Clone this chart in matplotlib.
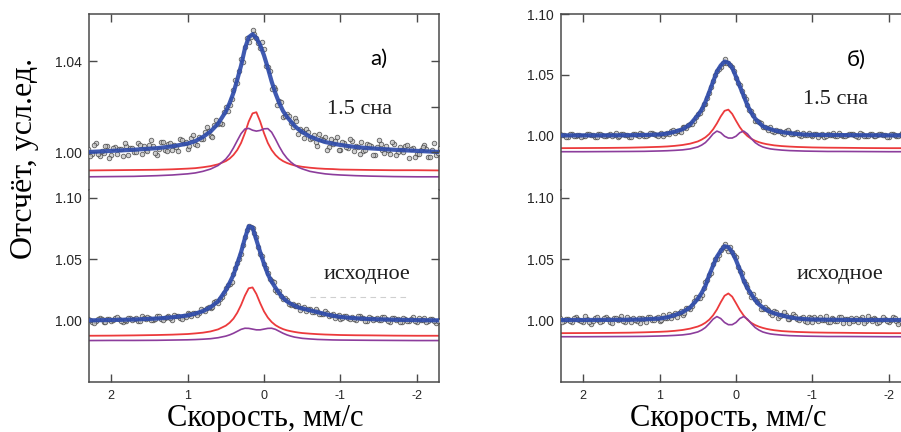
import matplotlib
matplotlib.use("Agg")
import matplotlib.pyplot as plt

# velocity channels of the measured spectra, mm/s (two interleaved halves)
vel_even = [-2.30, -2.25, -2.20, -2.15, -2.10, -2.05, -2.00, -1.95, -1.90, -1.85,
            -1.80, -1.75, -1.70, -1.65, -1.60, -1.55, -1.50, -1.45, -1.40, -1.35,
            -1.30, -1.25, -1.20, -1.15, -1.10, -1.05, -1.00, -0.95, -0.90, -0.85,
            -0.80, -0.75, -0.70, -0.65, -0.60, -0.55, -0.50, -0.45, -0.40, -0.35,
            -0.30, -0.25, -0.20, -0.15, -0.10, -0.05, 0.00, 0.05, 0.10, 0.15,
            0.20, 0.25, 0.30, 0.35, 0.40, 0.45, 0.50, 0.55, 0.60, 0.65,
            0.70, 0.75, 0.80, 0.85, 0.90, 0.95, 1.00, 1.05, 1.10, 1.15,
            1.20, 1.25, 1.30, 1.35, 1.40, 1.45, 1.50, 1.55, 1.60, 1.65,
            1.70, 1.75, 1.80, 1.85, 1.90, 1.95, 2.00, 2.05, 2.10, 2.15,
            2.20, 2.25, 2.30]
vel_odd = [-2.275, -2.225, -2.175, -2.125, -2.075, -2.025, -1.975, -1.925, -1.875, -1.825,
           -1.775, -1.725, -1.675, -1.625, -1.575, -1.525, -1.475, -1.425, -1.375, -1.325,
           -1.275, -1.225, -1.175, -1.125, -1.075, -1.025, -0.975, -0.925, -0.875, -0.825,
           -0.775, -0.725, -0.675, -0.625, -0.575, -0.525, -0.475, -0.425, -0.375, -0.325,
           -0.275, -0.225, -0.175, -0.125, -0.075, -0.025, 0.025, 0.075, 0.125, 0.175,
           0.225, 0.275, 0.325, 0.375, 0.425, 0.475, 0.525, 0.575, 0.625, 0.675,
           0.725, 0.775, 0.825, 0.875, 0.925, 0.975, 1.025, 1.075, 1.125, 1.175,
           1.225, 1.275, 1.325, 1.375, 1.425, 1.475, 1.525, 1.575, 1.625, 1.675,
           1.725, 1.775, 1.825, 1.875, 1.925, 1.975, 2.025, 2.075, 2.125, 2.175,
           2.225, 2.275]

# measured counts (normalised), panel a: after 1.5 dpa / initial
pts_a_top = [1.0018, 0.9989, 1.0010, 0.9979, 1.0033, 1.0009, 0.9990, 1.0017, 0.9974, 1.0028,
             1.0008, 1.0000, 1.0037, 0.9993, 1.0026, 1.0009, 1.0052, 0.9989, 1.0025, 1.0034,
             1.0006, 0.9990, 1.0028, 1.0047, 1.0019, 1.0041, 1.0010, 1.0066, 1.0034, 1.0024,
             1.0064, 1.0058, 1.0028, 1.0076, 1.0058, 1.0102, 1.0091, 1.0081, 1.0148, 1.0129,
             1.0169, 1.0156, 1.0226, 1.0276, 1.0279, 1.0375, 1.0451, 1.0458, 1.0501, 1.0535,
             1.0483, 1.0463, 1.0409, 1.0303, 1.0272, 1.0206, 1.0199, 1.0122, 1.0125, 1.0121,
             1.0072, 1.0112, 1.0059, 1.0068, 1.0035, 1.0062, 1.0013, 1.0040, 1.0058, 1.0024,
             1.0007, 1.0037, 1.0011, 1.0042, 0.9987, 1.0025, 1.0032, 1.0011, 0.9992, 1.0041,
             0.9998, 1.0017, 1.0026, 0.9982, 1.0012, 1.0020, 0.9988, 1.0028, 0.9997, 0.9982,
             1.0038, 0.9992, 1.0012]
pts_a_top_odd = [0.9997, 1.0040, 0.9976, 1.0012, 1.0021, 0.9991, 0.9976, 1.0013, 1.0030, 1.0000,
                 1.0021, 0.9989, 1.0043, 1.0009, 0.9996, 1.0034, 1.0024, 0.9989, 1.0032, 1.0007,
                 1.0044, 1.0024, 1.0003, 1.0058, 1.0022, 1.0044, 1.0009, 1.0047, 1.0057, 1.0010,
                 1.0052, 1.0078, 1.0046, 1.0063, 1.0090, 1.0060, 1.0102, 1.0137, 1.0110, 1.0157,
                 1.0159, 1.0219, 1.0208, 1.0284, 1.0355, 1.0380, 1.0483, 1.0478, 1.0521, 1.0508,
                 1.0500, 1.0394, 1.0355, 1.0316, 1.0233, 1.0179, 1.0178, 1.0127, 1.0139, 1.0068,
                 1.0093, 1.0089, 1.0059, 1.0032, 1.0075, 1.0028, 1.0044, 1.0051, 1.0004, 1.0032,
                 1.0038, 1.0005, 1.0044, 1.0012, 0.9997, 1.0052, 1.0006, 1.0026, 1.0030, 0.9999,
                 1.0018, 0.9986, 1.0038, 1.0013, 0.9992, 1.0017, 0.9972, 1.0025, 1.0003, 0.9993,
                 1.0029, 0.9983]
pts_a_bot = [1.0011, 0.9987, 1.0015, 0.9999, 1.0022, 1.0009, 0.9994, 1.0030, 1.0004, 1.0018,
             0.9993, 1.0017, 1.0022, 0.9990, 1.0015, 1.0030, 1.0005, 1.0013, 1.0026, 1.0001,
             1.0022, 1.0038, 1.0012, 1.0032, 1.0021, 1.0044, 1.0014, 1.0038, 1.0053, 1.0037,
             1.0079, 1.0059, 1.0079, 1.0071, 1.0100, 1.0079, 1.0106, 1.0128, 1.0122, 1.0128,
             1.0169, 1.0179, 1.0240, 1.0250, 1.0326, 1.0391, 1.0463, 1.0546, 1.0680, 1.0752,
             1.0775, 1.0684, 1.0543, 1.0468, 1.0384, 1.0299, 1.0266, 1.0199, 1.0147, 1.0158,
             1.0106, 1.0103, 1.0092, 1.0062, 1.0065, 1.0037, 1.0065, 1.0044, 1.0027, 1.0040,
             1.0008, 1.0041, 1.0025, 1.0016, 1.0038, 1.0006, 1.0026, 1.0013, 1.0039, 0.9996,
             1.0018, 1.0022, 1.0001, 0.9990, 1.0013, 1.0024, 1.0003, 1.0015, 0.9993, 1.0027,
             1.0004, 0.9994, 1.0018]
pts_a_bot_odd = [0.9997, 1.0004, 1.0017, 0.9991, 1.0012, 1.0026, 0.9998, 1.0016, 1.0003, 1.0023,
                 0.9991, 1.0010, 1.0021, 1.0000, 1.0036, 1.0008, 1.0021, 1.0006, 1.0029, 1.0001,
                 1.0022, 1.0039, 1.0020, 1.0014, 1.0038, 1.0025, 1.0051, 1.0021, 1.0052, 1.0064,
                 1.0058, 1.0054, 1.0096, 1.0076, 1.0096, 1.0111, 1.0089, 1.0121, 1.0142, 1.0139,
                 1.0189, 1.0202, 1.0235, 1.0319, 1.0344, 1.0431, 1.0525, 1.0602, 1.0715, 1.0763,
                 1.0741, 1.0619, 1.0503, 1.0427, 1.0321, 1.0294, 1.0227, 1.0176, 1.0165, 1.0111,
                 1.0113, 1.0085, 1.0100, 1.0048, 1.0062, 1.0060, 1.0034, 1.0019, 1.0039, 1.0047,
                 1.0024, 1.0034, 1.0010, 1.0042, 1.0017, 1.0007, 1.0030, 1.0021, 0.9996, 1.0023,
                 1.0005, 1.0027, 1.0012, 0.9997, 1.0031, 1.0005, 1.0017, 0.9991, 1.0014, 1.0018,
                 0.9985, 1.0008]

# panel b
pts_b_top = [0.9995, 1.0023, 1.0001, 1.0011, 0.9998, 1.0015, 0.9992, 1.0008, 1.0019, 1.0004,
             0.9996, 1.0013, 1.0000, 1.0018, 0.9990, 1.0012, 1.0016, 1.0005, 0.9996, 1.0023,
             1.0002, 1.0012, 1.0018, 0.9994, 1.0010, 1.0016, 1.0000, 1.0023, 1.0008, 1.0003,
             1.0035, 1.0014, 1.0029, 1.0037, 1.0026, 1.0043, 1.0034, 1.0072, 1.0068, 1.0072,
             1.0116, 1.0125, 1.0201, 1.0250, 1.0325, 1.0421, 1.0476, 1.0567, 1.0598, 1.0630,
             1.0564, 1.0532, 1.0454, 1.0353, 1.0264, 1.0218, 1.0182, 1.0126, 1.0101, 1.0062,
             1.0072, 1.0042, 1.0026, 1.0037, 1.0025, 1.0002, 1.0020, 1.0005, 1.0023, 1.0011,
             0.9998, 1.0026, 1.0004, 1.0014, 0.9993, 1.0012, 1.0016, 0.9989, 1.0007, 1.0019,
             0.9999, 1.0004, 1.0014, 0.9993, 1.0009, 1.0020, 0.9997, 1.0011, 1.0000, 1.0016,
             0.9990, 1.0005, 1.0013]
pts_b_top_odd = [1.0003, 0.9994, 1.0021, 0.9999, 1.0009, 1.0015, 0.9991, 1.0007, 1.0013, 0.9997,
                 1.0019, 1.0003, 0.9996, 1.0025, 1.0002, 1.0013, 1.0017, 1.0001, 1.0011, 0.9996,
                 1.0024, 1.0010, 1.0000, 1.0014, 0.9991, 1.0020, 1.0010, 1.0006, 1.0026, 1.0005,
                 1.0025, 1.0019, 1.0045, 1.0016, 1.0041, 1.0052, 1.0044, 1.0045, 1.0076, 1.0107,
                 1.0123, 1.0173, 1.0209, 1.0307, 1.0367, 1.0438, 1.0533, 1.0585, 1.0598, 1.0602,
                 1.0547, 1.0499, 1.0405, 1.0310, 1.0266, 1.0190, 1.0157, 1.0100, 1.0090, 1.0074,
                 1.0033, 1.0042, 1.0045, 1.0018, 1.0017, 1.0023, 1.0000, 1.0015, 1.0025, 1.0001,
                 1.0014, 1.0003, 1.0018, 0.9992, 1.0006, 1.0014, 0.9996, 1.0024, 1.0001, 1.0011,
                 0.9998, 1.0015, 0.9992, 1.0008, 1.0019, 1.0003, 0.9995, 1.0012, 0.9999, 1.0017,
                 0.9989, 1.0010]
pts_b_bot = [1.0018, 1.0000, 1.0039, 0.9991, 1.0003, 1.0029, 0.9994, 1.0020, 1.0012, 0.9986,
             1.0024, 1.0015, 0.9998, 1.0034, 0.9990, 1.0006, 1.0023, 1.0017, 0.9983, 1.0029,
             1.0001, 1.0022, 0.9994, 1.0007, 1.0034, 1.0017, 0.9991, 1.0030, 1.0003, 1.0026,
             1.0013, 1.0055, 1.0014, 1.0050, 1.0045, 1.0028, 1.0080, 1.0066, 1.0099, 1.0097,
             1.0160, 1.0177, 1.0198, 1.0280, 1.0329, 1.0407, 1.0517, 1.0564, 1.0573, 1.0624,
             1.0579, 1.0501, 1.0462, 1.0370, 1.0314, 1.0211, 1.0183, 1.0164, 1.0101, 1.0103,
             1.0049, 1.0067, 1.0065, 1.0024, 1.0027, 1.0052, 1.0002, 1.0028, 1.0009, 1.0035,
             1.0018, 0.9986, 1.0000, 1.0025, 1.0018, 0.9988, 1.0043, 1.0005, 1.0021, 0.9993,
             1.0032, 1.0001, 1.0009, 1.0026, 0.9979, 1.0017, 0.9995, 1.0012, 1.0034, 0.9988,
             1.0015, 0.9998, 1.0024]
pts_b_bot_odd = [1.0012, 0.9995, 1.0017, 0.9979, 1.0026, 1.0008, 1.0000, 1.0031, 0.9992, 1.0020,
                 1.0004, 1.0041, 0.9986, 1.0016, 1.0023, 0.9997, 0.9983, 1.0014, 1.0029, 1.0003,
                 1.0020, 0.9992, 1.0038, 1.0008, 0.9998, 1.0029, 1.0021, 0.9991, 1.0029, 1.0010,
                 1.0044, 1.0031, 1.0017, 1.0070, 1.0044, 1.0070, 1.0047, 1.0091, 1.0116, 1.0096,
                 1.0157, 1.0216, 1.0232, 1.0297, 1.0388, 1.0436, 1.0535, 1.0605, 1.0597, 1.0599,
                 1.0538, 1.0504, 1.0388, 1.0330, 1.0270, 1.0188, 1.0192, 1.0120, 1.0109, 1.0069,
                 1.0083, 1.0033, 1.0048, 1.0057, 1.0024, 1.0007, 1.0031, 1.0008, 1.0036, 0.9988,
                 1.0021, 1.0026, 1.0009, 0.9993, 1.0036, 1.0000, 1.0017, 1.0025, 0.9987, 1.0013,
                 1.0021, 0.9995, 1.0030, 1.0003, 0.9991, 1.0039, 1.0000, 1.0018, 1.0024, 0.9998,
                 1.0015, 0.9988]

# fitted curves: total (blue) and two components (red singlet, purple doublet)
vel_fit = [-2.3, -2.0, -1.7, -1.4, -1.2, -1.0, -0.9, -0.8, -0.7, -0.6,
           -0.5, -0.45, -0.4, -0.35, -0.3, -0.25, -0.2, -0.15, -0.1, -0.05,
           0.0, 0.05, 0.1, 0.15, 0.2, 0.25, 0.3, 0.35, 0.4, 0.45,
           0.5, 0.6, 0.7, 0.8, 0.9, 1.0, 1.2, 1.4, 1.7, 2.0, 2.3]

fit_a_top = [1.0000, 1.0005, 1.0010, 1.0016, 1.0022, 1.0031, 1.0037, 1.0044, 1.0055, 1.0068,
             1.0088, 1.0100, 1.0115, 1.0135, 1.0155, 1.0180, 1.0215, 1.0258, 1.0310, 1.0370,
             1.0425, 1.0470, 1.0502, 1.0518, 1.0505, 1.0455, 1.0380, 1.0318, 1.0260, 1.0215,
             1.0178, 1.0125, 1.0090, 1.0066, 1.0048, 1.0037, 1.0025, 1.0017, 1.0010, 1.0005, 1.0000]
red_a_top = [0.9919, 0.9920, 0.9920, 0.9921, 0.9922, 0.9923, 0.9925, 0.9926, 0.9928, 0.9931,
             0.9935, 0.9938, 0.9941, 0.9946, 0.9952, 0.9960, 0.9971, 0.9987, 1.0009, 1.0040,
             1.0083, 1.0134, 1.0175, 1.0170, 1.0134, 1.0083, 1.0040, 1.0009, 0.9987, 0.9971,
             0.9960, 0.9946, 0.9938, 0.9933, 0.9929, 0.9927, 0.9924, 0.9922, 0.9921, 0.9920, 0.9919]
pur_a_top = [0.9891, 0.9891, 0.9892, 0.9894, 0.9896, 0.9899, 0.9901, 0.9904, 0.9909, 0.9915,
             0.9926, 0.9933, 0.9943, 0.9956, 0.9973, 0.9995, 1.0024, 1.0057, 1.0087, 1.0103,
             1.0102, 1.0095, 1.0092, 1.0096, 1.0104, 1.0101, 1.0081, 1.0050, 1.0018, 0.9990,
             0.9969, 0.9941, 0.9925, 0.9915, 0.9908, 0.9904, 0.9899, 0.9896, 0.9893, 0.9892, 0.9891]

fit_a_bot = [1.0005, 1.0007, 1.0010, 1.0015, 1.0022, 1.0033, 1.0043, 1.0056, 1.0072, 1.0087,
             1.0102, 1.0110, 1.0125, 1.0140, 1.0160, 1.0186, 1.0225, 1.0270, 1.0320, 1.0380,
             1.0465, 1.0560, 1.0660, 1.0760, 1.0770, 1.0672, 1.0560, 1.0465, 1.0375, 1.0310,
             1.0250, 1.0160, 1.0112, 1.0080, 1.0060, 1.0045, 1.0030, 1.0020, 1.0012, 1.0008, 1.0005]
red_a_bot = [0.9880, 0.9880, 0.9881, 0.9883, 0.9884, 0.9886, 0.9888, 0.9890, 0.9893, 0.9897,
             0.9902, 0.9906, 0.9911, 0.9917, 0.9924, 0.9934, 0.9948, 0.9966, 0.9992, 1.0028,
             1.0078, 1.0145, 1.0220, 1.0273, 1.0266, 1.0206, 1.0130, 1.0067, 1.0019, 0.9986,
             0.9962, 0.9932, 0.9915, 0.9905, 0.9899, 0.9894, 0.9889, 0.9886, 0.9883, 0.9881, 0.9880]
pur_a_bot = [0.9841, 0.9841, 0.9842, 0.9843, 0.9844, 0.9845, 0.9846, 0.9848, 0.9850, 0.9854,
             0.9859, 0.9864, 0.9869, 0.9877, 0.9887, 0.9900, 0.9916, 0.9932, 0.9941, 0.9940,
             0.9934, 0.9928, 0.9928, 0.9934, 0.9940, 0.9941, 0.9932, 0.9916, 0.9900, 0.9887,
             0.9877, 0.9864, 0.9856, 0.9852, 0.9849, 0.9847, 0.9845, 0.9843, 0.9842, 0.9842, 0.9841]

fit_b_top = [1.0005, 1.0005, 1.0006, 1.0007, 1.0008, 1.0009, 1.0011, 1.0016, 1.0023, 1.0032,
             1.0046, 1.0056, 1.0066, 1.0080, 1.0110, 1.0143, 1.0190, 1.0250, 1.0330, 1.0407,
             1.0486, 1.0560, 1.0600, 1.0610, 1.0578, 1.0527, 1.0445, 1.0360, 1.0280, 1.0215,
             1.0170, 1.0095, 1.0055, 1.0035, 1.0020, 1.0012, 1.0008, 1.0006, 1.0005, 1.0005, 1.0005]
red_b_top = [0.9900, 0.9900, 0.9901, 0.9903, 0.9904, 0.9906, 0.9908, 0.9910, 0.9913, 0.9917,
             0.9923, 0.9928, 0.9933, 0.9940, 0.9949, 0.9961, 0.9977, 0.9999, 1.0030, 1.0072,
             1.0125, 1.0181, 1.0216, 1.0206, 1.0160, 1.0103, 1.0054, 1.0016, 0.9989, 0.9970,
             0.9955, 0.9937, 0.9926, 0.9919, 0.9914, 0.9911, 0.9907, 0.9904, 0.9902, 0.9901, 0.9900]
pur_b_top = [0.9871, 0.9871, 0.9872, 0.9873, 0.9873, 0.9875, 0.9876, 0.9878, 0.9880, 0.9884,
             0.9890, 0.9894, 0.9901, 0.9910, 0.9925, 0.9946, 0.9979, 1.0017, 1.0040, 1.0027,
             0.9998, 0.9983, 0.9983, 0.9998, 1.0027, 1.0040, 1.0017, 0.9979, 0.9946, 0.9925,
             0.9910, 0.9894, 0.9886, 0.9882, 0.9879, 0.9877, 0.9874, 0.9873, 0.9872, 0.9871, 0.9871]

fit_b_bot = [1.0008, 1.0008, 1.0008, 1.0009, 1.0010, 1.0012, 1.0015, 1.0020, 1.0030, 1.0045,
             1.0062, 1.0074, 1.0089, 1.0110, 1.0135, 1.0170, 1.0218, 1.0266, 1.0330, 1.0417,
             1.0495, 1.0560, 1.0600, 1.0608, 1.0570, 1.0522, 1.0450, 1.0375, 1.0285, 1.0228,
             1.0180, 1.0110, 1.0072, 1.0048, 1.0030, 1.0020, 1.0013, 1.0010, 1.0009, 1.0008, 1.0008]
red_b_bot = [0.9901, 0.9901, 0.9902, 0.9904, 0.9905, 0.9907, 0.9909, 0.9911, 0.9914, 0.9918,
             0.9925, 0.9930, 0.9936, 0.9944, 0.9954, 0.9967, 0.9985, 1.0010, 1.0045, 1.0090,
             1.0145, 1.0198, 1.0224, 1.0205, 1.0152, 1.0093, 1.0046, 1.0011, 0.9986, 0.9968,
             0.9955, 0.9938, 0.9927, 0.9920, 0.9915, 0.9912, 0.9908, 0.9905, 0.9903, 0.9902, 0.9901]
pur_b_bot = [0.9872, 0.9872, 0.9873, 0.9874, 0.9874, 0.9876, 0.9877, 0.9879, 0.9881, 0.9885,
             0.9891, 0.9895, 0.9902, 0.9911, 0.9926, 0.9947, 0.9979, 1.0015, 1.0036, 1.0020,
             0.9988, 0.9970, 0.9970, 0.9988, 1.0020, 1.0036, 1.0015, 0.9979, 0.9947, 0.9926,
             0.9911, 0.9895, 0.9887, 0.9883, 0.9880, 0.9878, 0.9875, 0.9874, 0.9873, 0.9872, 0.9872]

x_ticks = [2, 1, 0, -1, -2]

W, H = 901, 432
fig = plt.figure(figsize=(W / 100, H / 100), dpi=100)
fig.patch.set_facecolor("white")

SPINE = "#4a4a4a"
BLUE = "#2f4cab"
RED = "#ec3a3c"
PURPLE = "#8c3d9c"
SERIF = "Liberation Serif"
SANS = "Liberation Sans"


def box(l, t, r, b):
    return [l / W, 1 - b / H, (r - l) / W, (b - t) / H]


def draw(ax, pts, pts_odd, fit, red, pur):
    ax.plot(vel_fit, red, color=RED, lw=1.3, zorder=2)
    ax.plot(vel_fit, pur, color=PURPLE, lw=1.2, zorder=2)
    for v, p in ((vel_even, pts), (vel_odd, pts_odd)):
        ax.plot(v, p, ls="none", marker="o", ms=3.3, mfc="#c4c4c4",
                mec="#333333", mew=0.6, alpha=0.75, zorder=3)
    ax.plot(vel_fit, fit, color=BLUE, lw=3.0, alpha=0.92, zorder=4,
            solid_capstyle="round")


def style(ax, top, yticks, ylim, right_ticks=None):
    ax.set_xlim(2.29, -2.29)
    ax.set_ylim(*ylim)
    for s in ax.spines.values():
        s.set_color(SPINE)
        s.set_linewidth(1.1)
    ax.spines["bottom" if top else "top"].set_visible(False)
    ax.set_xticks(x_ticks)
    ax.set_yticks(yticks)
    ax.set_yticklabels(["%.2f" % t for t in yticks], fontsize=10, family=SANS,
                       color="#262626")
    ax.tick_params(axis="both", direction="in", length=6, width=1.0, color=SPINE)
    ax.tick_params(axis="y", pad=5)
    if top:
        ax.tick_params(axis="x", top=True, bottom=False, labelbottom=False)
    else:
        ax.tick_params(axis="x", top=False, bottom=True, pad=6)
        ax.set_xticklabels([str(t) for t in x_ticks], fontsize=9, family=SANS,
                           color="#262626")
    if right_ticks is None:
        ax.tick_params(axis="y", right=True)
    else:
        tw = ax.twinx()
        tw.set_ylim(*ylim)
        tw.set_yticks(right_ticks)
        tw.tick_params(axis="y", direction="in", length=6, width=1.0, color=SPINE,
                       labelright=False)
        for s in tw.spines.values():
            s.set_visible(False)


# panel a
ax1 = fig.add_axes(box(89, 14, 439, 190))
draw(ax1, pts_a_top, pts_a_top_odd, fit_a_top, red_a_top, pur_a_top)
style(ax1, True, [1.00, 1.04], (0.9833, 1.0607), right_ticks=[1.00, 1.02, 1.04])

ax2 = fig.add_axes(box(89, 190, 439, 382))
draw(ax2, pts_a_bot, pts_a_bot_odd, fit_a_bot, red_a_bot, pur_a_bot)
style(ax2, False, [1.00, 1.05, 1.10], (0.9504, 1.1065))
ax2.axhline(1.0198, xmin=0.63, xmax=0.91, color="#cfcfcf", lw=0.8, ls=(0, (5, 4)))

# panel b
ax3 = fig.add_axes(box(561, 14, 911, 190))
draw(ax3, pts_b_top, pts_b_top_odd, fit_b_top, red_b_top, pur_b_top)
style(ax3, True, [1.00, 1.05, 1.10], (0.9557, 1.10))

ax4 = fig.add_axes(box(561, 190, 911, 382))
draw(ax4, pts_b_bot, pts_b_bot_odd, fit_b_bot, red_b_bot, pur_b_bot)
style(ax4, False, [1.00, 1.05, 1.10], (0.9504, 1.1065))

# captions
fig.text(25 / W, 1 - 158 / H, "Отсчёт, усл.ед.", rotation=90, ha="center",
         va="center", fontsize=23, family=SERIF)
fig.text(265 / W, 1 - 426 / H, "Скорость, мм/с", ha="center", va="baseline",
         fontsize=22, family=SERIF)
fig.text(728 / W, 1 - 426 / H, "Скорость, мм/с", ha="center", va="baseline",
         fontsize=22, family=SERIF)

fig.text(379 / W, 1 - 59 / H, "а)", ha="center", va="center", fontsize=16, family="Lato")
fig.text(856 / W, 1 - 60 / H, "б)", ha="center", va="center", fontsize=16, family="Lato")

fig.text(360 / W, 1 - 110 / H, "1.5 сна", ha="center", va="center", fontsize=16,
         family=SERIF, color="#1e1e1e")
fig.text(836 / W, 1 - 99 / H, "1.5 сна", ha="center", va="center", fontsize=16,
         family=SERIF, color="#1e1e1e")
fig.text(367 / W, 1 - 275 / H, "исходное", ha="center", va="center", fontsize=16,
         family=SERIF, color="#1e1e1e")
fig.text(840 / W, 1 - 275 / H, "исходное", ha="center", va="center", fontsize=16,
         family=SERIF, color="#1e1e1e")

fig.savefig("out.png", dpi=100)
